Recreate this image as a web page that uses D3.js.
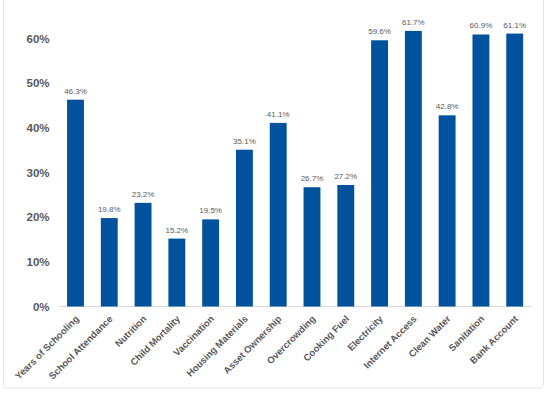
<!DOCTYPE html>
<html lang="en">
<head>
<meta charset="UTF-8">
<title>bar-chart</title>
<script src="https://cdn.jsdelivr.net/npm/d3@7"></script>
<style>
  body { margin: 0; background: #fff; }
  text { font-family: "Liberation Sans", Arial, sans-serif; }
</style>
</head>
<body>
<div id="container"></div>
<script>
const categories = ["Years of Schooling", "School Attendance", "Nutrition", "Child Mortality",
  "Vaccination", "Housing Materials", "Asset Ownership", "Overcrowding", "Cooking Fuel",
  "Electricity", "Internet Access", "Clean Water", "Sanitation", "Bank Account"];
const values = [46.3, 19.8, 23.2, 15.2, 19.5, 35.1, 41.1, 26.7, 27.2, 59.6, 61.7, 42.8, 60.9, 61.1];
const yTicks = [0, 10, 20, 30, 40, 50, 60];

const width = 550, height = 396;
const margin = {top: 38.5, right: 18, bottom: 89.5, left: 58.6};

const svg = d3.select("#container").append("svg")
  .attr("width", width).attr("height", height);

// outer frame
svg.append("rect")
  .attr("x", 3.5).attr("y", -10)
  .attr("width", 540).attr("height", 398)
  .attr("rx", 4)
  .attr("fill", "none").attr("stroke", "#e4e4e4");

const x = d3.scaleBand()
  .domain(categories)
  .range([margin.left, width - margin.right - 0.4])
  .paddingInner(0.5).paddingOuter(0.25);

const y = d3.scaleLinear()
  .domain([0, 60])
  .range([height - margin.bottom, margin.top]);

// y axis labels
const yAxis = svg.append("g")
  .attr("transform", `translate(${margin.left - 5},0)`)
  .call(d3.axisLeft(y).tickValues(yTicks).tickFormat(d => d + "%").tickSize(0).tickPadding(4));
yAxis.select(".domain").remove();
yAxis.selectAll("text")
  .attr("fill", "#595959").attr("font-size", 11.5).attr("font-weight", "bold");

// baseline
svg.append("line")
  .attr("x1", margin.left).attr("x2", width - margin.right)
  .attr("y1", y(0)).attr("y2", y(0))
  .attr("stroke", "#d9d9d9");

// bars
svg.selectAll("rect.bar")
  .data(values)
  .join("rect")
  .attr("class", "bar")
  .attr("x", (d, i) => x(categories[i]))
  .attr("y", d => y(d))
  .attr("width", x.bandwidth())
  .attr("height", d => y(0) - y(d))
  .attr("fill", "#00529c");

// data labels
svg.selectAll("text.val")
  .data(values)
  .join("text")
  .attr("class", "val")
  .attr("x", (d, i) => x(categories[i]) + x.bandwidth() / 2)
  .attr("y", d => y(d) - 6)
  .attr("text-anchor", "middle")
  .attr("font-size", 8)
  .attr("fill", "#595959")
  .text(d => d.toFixed(1) + "%");

// x labels
svg.selectAll("text.cat")
  .data(categories)
  .join("text")
  .attr("class", "cat")
  .attr("transform", d => `translate(${x(d) + x.bandwidth() / 2 + 4},${y(0) + 13}) rotate(-45)`)
  .attr("text-anchor", "end")
  .attr("font-size", 9.5)
  .attr("font-weight", "bold")
  .attr("fill", "#595959")
  .text(d => d);
</script>
</body>
</html>
